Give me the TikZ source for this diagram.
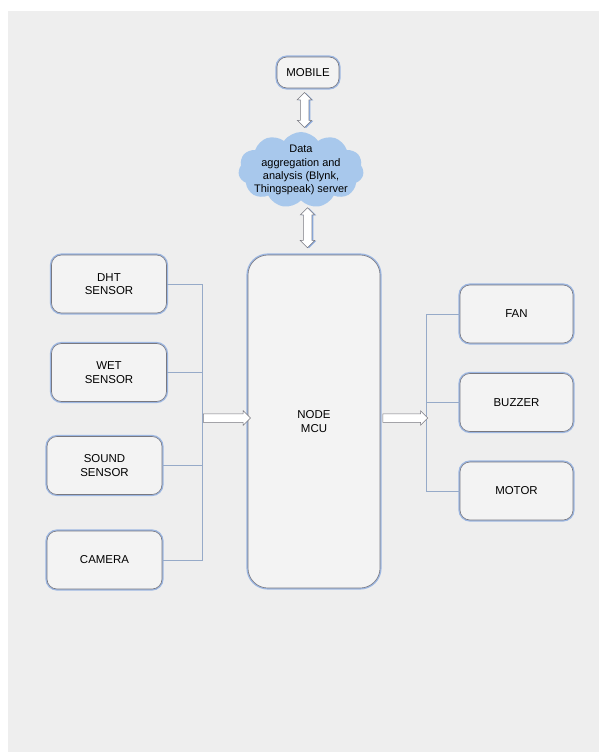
\documentclass[tikz,border=0pt]{standalone}
\usepackage{fontspec}
\setmainfont{Liberation Sans}
\usetikzlibrary{arrows.meta, positioning, calc, shapes.symbols, shapes.arrows, shadows}
\definecolor{panel}{RGB}{238,238,238}
\definecolor{boxfill}{RGB}{243,243,243}
\definecolor{glow}{RGB}{130,165,222}
\definecolor{edge}{RGB}{120,120,128}
\definecolor{wirec}{RGB}{150,170,200}
\definecolor{cloudc}{RGB}{168,200,236}
\begin{document}
\begin{tikzpicture}[x=1bp, y=1bp,
  blk/.style={draw=edge, line width=0.6bp, fill=boxfill, rounded corners=10bp,
    align=center, inner sep=0pt, font=\fontsize{11.5}{13.5}\selectfont,
    preaction={draw=glow, line width=3.2bp, opacity=0.75}},
  sensor/.style={blk, minimum width=115bp, minimum height=58bp},
  wire/.style={draw=wirec, line width=0.8bp},
  fatarrow/.style={single arrow, draw=edge, fill=white, line width=0.5bp,
    inner xsep=0pt, inner ysep=4bp, single arrow head extend=3bp,
    single arrow head indent=0pt},
  dblarrow/.style={double arrow, draw=edge, fill=white, line width=0.5bp,
    inner sep=4bp, double arrow head extend=3bp, shape border rotate=90,
    drop shadow={shadow xshift=1.5bp, shadow yshift=-0.5bp, fill=glow, opacity=0.9}}]
  \useasboundingbox (0,0) rectangle (599,-752);
  \fill[panel] (8,-11) rectangle (599,-752);
  \node[blk, minimum width=62bp, minimum height=31bp] (mobile) at (308,-72.5) {MOBILE};
  \node[cloud, cloud puffs=11, cloud puff arc=110, aspect=2, fill=cloudc,
    inner sep=-4bp, align=center, font=\fontsize{11}{13.3}\selectfont]
    (server) at (301,-170) {Data\\aggregation and\\analysis (Blynk,\\Thingspeak) server};
  \node[blk, rounded corners=20bp, minimum width=132bp, minimum height=333bp] (mcu) at (314,-421.5) {NODE\\MCU};
  \node[sensor] (dht) at (109,-284) {DHT\\SENSOR};
  \node[sensor] (wet) at (109,-372.5) {WET\\SENSOR};
  \node[sensor] (snd) at (104.5,-465.5) {SOUND\\SENSOR};
  \node[sensor] (cam) at (104.5,-560) {CAMERA};
  \node[sensor, minimum width=113bp] (fan) at (516.5,-314) {FAN};
  \node[sensor, minimum width=113bp] (buzz) at (516.5,-402.5) {BUZZER};
  \node[sensor, minimum width=113bp] (motor) at (516.5,-491) {MOTOR};
  \path (mobile.south) -- node[dblarrow, minimum height=35bp] (uparr) {} (server.north);
  \path (server.south) -- node[dblarrow, minimum height=40bp] (dnarr) {} (mcu.north);
  \coordinate (lbus) at (202,-418);
  \coordinate (rbus) at (426,-418);
  \draw[wire] (dht.east) -- (dht.east -| lbus) -- (cam.east -| lbus) -- (cam.east);
  \draw[wire] (wet.east) -- (wet.east -| lbus);
  \draw[wire] (snd.east) -- (snd.east -| lbus);
  \draw[wire] (fan.west) -- (fan.west -| rbus) -- (motor.west -| rbus) -- (motor.west);
  \draw[wire] (buzz.west) -- (buzz.west -| rbus);
  \path (lbus) -- node[fatarrow, minimum height=47bp] (inarr) {} (lbus -| mcu.west);
  \path (rbus -| mcu.east) -- node[fatarrow, minimum height=45bp] (outarr) {} (rbus);
\end{tikzpicture}
\end{document}
